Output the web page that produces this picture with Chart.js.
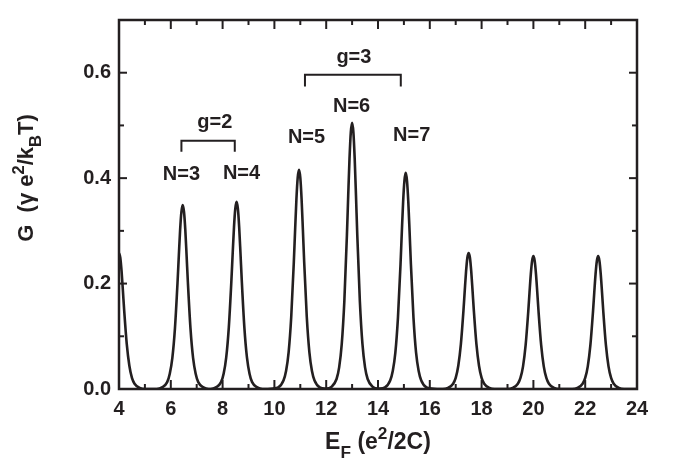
<!DOCTYPE html>
<html>
<head>
<meta charset="utf-8">
<script src="https://cdn.jsdelivr.net/npm/chart.js@4.4.1/dist/chart.umd.min.js"></script>
<style>
  html, body { margin: 0; padding: 0; background: #ffffff; }
  #wrap { position: relative; width: 674px; height: 461px; }
</style>
</head>
<body>
<div id="wrap"><canvas id="c" width="674" height="461"></canvas></div>
<script>
// ---- data ----
const xTicks = [4, 6, 8, 10, 12, 14, 16, 18, 20, 22, 24];
const xMinorTicks = [5, 7, 9, 11, 13, 15, 17, 19, 21, 23];
const yTicks = [0.0, 0.2, 0.4, 0.6];
const yMinorTicks = [0.1, 0.3, 0.5];

const xPeak0 = [4.00, 4.05, 4.10, 4.15, 4.20, 4.30, 4.40, 4.50, 4.60, 4.80, 5.00];
const gPeak0 = [0.258, 0.249, 0.223, 0.187, 0.149, 0.085, 0.044, 0.021, 0.010, 0.002, 0.000];

const xPeak1 = [5.46, 5.66, 5.86, 5.96, 6.06, 6.16, 6.26, 6.31, 6.36, 6.41, 6.46, 6.51, 6.56, 6.61, 6.66, 6.76, 6.86, 6.96, 7.06, 7.26, 7.46];
const gPeak1 = [0.000, 0.003, 0.013, 0.029, 0.059, 0.115, 0.202, 0.253, 0.302, 0.336, 0.349, 0.336, 0.302, 0.253, 0.202, 0.115, 0.059, 0.029, 0.013, 0.003, 0.000];

const xPeak2 = [7.54, 7.74, 7.94, 8.04, 8.14, 8.24, 8.34, 8.39, 8.44, 8.49, 8.54, 8.59, 8.64, 8.69, 8.74, 8.84, 8.94, 9.04, 9.14, 9.34, 9.54];
const gPeak2 = [0.000, 0.003, 0.013, 0.029, 0.060, 0.117, 0.206, 0.258, 0.307, 0.342, 0.355, 0.342, 0.307, 0.258, 0.206, 0.117, 0.060, 0.029, 0.013, 0.003, 0.000];

const xPeak3 = [9.95, 10.15, 10.35, 10.45, 10.55, 10.65, 10.75, 10.80, 10.85, 10.90, 10.95, 11.00, 11.05, 11.10, 11.15, 11.25, 11.35, 11.45, 11.55, 11.75, 11.95];
const gPeak3 = [0.001, 0.003, 0.016, 0.034, 0.070, 0.137, 0.241, 0.302, 0.360, 0.401, 0.416, 0.401, 0.360, 0.302, 0.241, 0.137, 0.070, 0.034, 0.016, 0.003, 0.001];

const xPeak4 = [12.00, 12.20, 12.40, 12.50, 12.60, 12.70, 12.80, 12.85, 12.90, 12.95, 13.00, 13.05, 13.10, 13.15, 13.20, 13.30, 13.40, 13.50, 13.60, 13.80, 14.00];
const gPeak4 = [0.001, 0.004, 0.019, 0.041, 0.085, 0.166, 0.292, 0.367, 0.437, 0.487, 0.505, 0.487, 0.437, 0.367, 0.292, 0.166, 0.085, 0.041, 0.019, 0.004, 0.001];

const xPeak5 = [14.07, 14.27, 14.47, 14.57, 14.67, 14.77, 14.87, 14.92, 14.97, 15.02, 15.07, 15.12, 15.17, 15.22, 15.27, 15.37, 15.47, 15.57, 15.67, 15.87, 16.07];
const gPeak5 = [0.001, 0.003, 0.016, 0.034, 0.069, 0.135, 0.237, 0.298, 0.355, 0.395, 0.410, 0.395, 0.355, 0.298, 0.237, 0.135, 0.069, 0.034, 0.016, 0.003, 0.001];

const xPeak6 = [16.50, 16.70, 16.90, 17.00, 17.10, 17.20, 17.30, 17.35, 17.40, 17.45, 17.50, 17.55, 17.60, 17.65, 17.70, 17.80, 17.90, 18.00, 18.10, 18.30, 18.50];
const gPeak6 = [0.000, 0.002, 0.010, 0.021, 0.044, 0.085, 0.149, 0.187, 0.223, 0.249, 0.258, 0.249, 0.223, 0.187, 0.149, 0.085, 0.044, 0.021, 0.010, 0.002, 0.000];

const xPeak7 = [19.00, 19.20, 19.40, 19.50, 19.60, 19.70, 19.80, 19.85, 19.90, 19.95, 20.00, 20.05, 20.10, 20.15, 20.20, 20.30, 20.40, 20.50, 20.60, 20.80, 21.00];
const gPeak7 = [0.000, 0.002, 0.010, 0.021, 0.043, 0.083, 0.146, 0.183, 0.218, 0.243, 0.252, 0.243, 0.218, 0.183, 0.146, 0.083, 0.043, 0.021, 0.010, 0.002, 0.000];

const xPeak8 = [21.50, 21.70, 21.90, 22.00, 22.10, 22.20, 22.30, 22.35, 22.40, 22.45, 22.50, 22.55, 22.60, 22.65, 22.70, 22.80, 22.90, 23.00, 23.10, 23.30, 23.50, 24.00];
const gPeak8 = [0.000, 0.002, 0.010, 0.021, 0.043, 0.083, 0.146, 0.183, 0.218, 0.243, 0.252, 0.243, 0.218, 0.183, 0.146, 0.083, 0.043, 0.021, 0.010, 0.002, 0.000, 0.000];

// annotation labels (text, x, y in data units)
const peakLabels = ['N=3', 'N=4', 'N=5', 'N=6', 'N=7'];
const peakLabelX = [6.41, 8.73, 11.24, 12.98, 15.30];
const peakLabelY = [0.407, 0.409, 0.477, 0.536, 0.480];
const groupLabels = ['g=2', 'g=3'];
const groupLabelX = [7.70, 13.07];
const groupLabelY = [0.505, 0.628];
const bracketX1 = [6.41, 11.18];
const bracketX2 = [8.47, 14.88];
const bracketTop = [0.471, 0.596];
const bracketBottom = [0.450, 0.574];

// ---- build trace ----
const allX = [].concat(xPeak0, xPeak1, xPeak2, xPeak3, xPeak4, xPeak5, xPeak6, xPeak7, xPeak8);
const allG = [].concat(gPeak0, gPeak1, gPeak2, gPeak3, gPeak4, gPeak5, gPeak6, gPeak7, gPeak8);
const points = allX.map((x, i) => ({ x: x, y: allG[i] }));

const INK = '#231f20';
const FONT = '"Liberation Sans", Arial, sans-serif';

function drawRich(ctx, parts, x, y, size, subRatio, supDy, subDy) {
  let total = 0;
  const widths = parts.map(p => {
    const s = (p.sub || p.sup) ? size * subRatio : size;
    ctx.font = 'bold ' + s + 'px ' + FONT;
    const w = ctx.measureText(p.t).width;
    total += w;
    return w;
  });
  let cx = x - total / 2;
  ctx.textAlign = 'left';
  ctx.textBaseline = 'alphabetic';
  parts.forEach((p, i) => {
    const s = (p.sub || p.sup) ? size * subRatio : size;
    ctx.font = 'bold ' + s + 'px ' + FONT;
    let dy = 0;
    if (p.sup) dy = -size * supDy;
    if (p.sub) dy = size * subDy;
    ctx.fillText(p.t, cx, y + dy);
    cx += widths[i];
  });
}

const decorations = {
  id: 'decorations',
  afterDraw(chart) {
    const { ctx, chartArea: a, scales } = chart;
    const xs = scales.x, ys = scales.y;
    ctx.save();
    ctx.strokeStyle = INK;
    ctx.fillStyle = INK;
    ctx.lineCap = 'butt';
    // frame
    ctx.lineWidth = 2.5;
    ctx.strokeRect(a.left, a.top, a.right - a.left, a.bottom - a.top);
    // ticks (inward, mirrored)
    ctx.lineWidth = 2;
    const seg = (x1, y1, x2, y2) => { ctx.beginPath(); ctx.moveTo(x1, y1); ctx.lineTo(x2, y2); ctx.stroke(); };
    xTicks.forEach(v => { const p = xs.getPixelForValue(v); seg(p, a.bottom, p, a.bottom - 9); seg(p, a.top, p, a.top + 9); });
    xMinorTicks.forEach(v => { const p = xs.getPixelForValue(v); seg(p, a.bottom, p, a.bottom - 5); seg(p, a.top, p, a.top + 5); });
    yTicks.forEach(v => { const p = ys.getPixelForValue(v); seg(a.left, p, a.left + 8, p); seg(a.right, p, a.right - 8, p); });
    yMinorTicks.forEach(v => { const p = ys.getPixelForValue(v); seg(a.left, p, a.left + 5, p); seg(a.right, p, a.right - 5, p); });

    // brackets
    ctx.lineWidth = 2;
    for (let i = 0; i < bracketX1.length; i++) {
      const x1 = xs.getPixelForValue(bracketX1[i]);
      const x2 = xs.getPixelForValue(bracketX2[i]);
      const yt = ys.getPixelForValue(bracketTop[i]);
      const yb = ys.getPixelForValue(bracketBottom[i]);
      ctx.beginPath();
      ctx.moveTo(x1, yb); ctx.lineTo(x1, yt); ctx.lineTo(x2, yt); ctx.lineTo(x2, yb);
      ctx.stroke();
    }
    // labels
    ctx.font = 'bold 20px ' + FONT;
    ctx.textAlign = 'center';
    ctx.textBaseline = 'middle';
    peakLabels.forEach((t, i) => ctx.fillText(t, xs.getPixelForValue(peakLabelX[i]), ys.getPixelForValue(peakLabelY[i])));
    groupLabels.forEach((t, i) => ctx.fillText(t, xs.getPixelForValue(groupLabelX[i]), ys.getPixelForValue(groupLabelY[i])));

    // x axis title
    drawRich(ctx, [{ t: 'E' }, { t: 'F', sub: true }, { t: ' (e' }, { t: '2', sup: true }, { t: '/2C)' }],
      (a.left + a.right) / 2, 449, 23, 0.75, 0.42, 0.4);
    // y axis title (rotated)
    ctx.save();
    ctx.translate(33, 178);
    ctx.rotate(-Math.PI / 2);
    drawRich(ctx, [{ t: 'G  (\u03b3 e' }, { t: '2', sup: true }, { t: '/k' }, { t: 'B', sub: true }, { t: 'T)' }],
      0, 0, 22, 0.75, 0.42, 0.35);
    ctx.restore();
    ctx.restore();
  }
};

new Chart(document.getElementById('c'), {
  type: 'line',
  data: {
    datasets: [{
      data: points,
      borderColor: INK,
      borderWidth: 2.6,
      pointRadius: 0,
      fill: false,
      cubicInterpolationMode: 'monotone'
    }]
  },
  options: {
    responsive: false,
    animation: false,
    events: [],
    layout: { padding: { left: 0, top: 6, right: 37, bottom: 0 } },
    plugins: { legend: { display: false }, tooltip: { enabled: false } },
    scales: {
      x: {
        type: 'linear', min: 4, max: 24,
        afterBuildTicks: s => { s.ticks = xTicks.map(v => ({ value: v })); },
        afterFit: s => { s.height = 72; },
        grid: { display: false, drawTicks: false },
        border: { display: false },
        ticks: { color: INK, padding: 8, maxRotation: 0, font: { family: FONT, size: 20, weight: 'bold' }, callback: v => String(v) }
      },
      y: {
        type: 'linear', min: 0, max: 0.7,
        afterBuildTicks: s => { s.ticks = yTicks.map(v => ({ value: v })); },
        afterFit: s => { s.width = 119; },
        grid: { display: false, drawTicks: false },
        border: { display: false },
        ticks: { color: INK, padding: 8, font: { family: FONT, size: 20, weight: 'bold' }, callback: v => Number(v).toFixed(1) }
      }
    }
  },
  plugins: [decorations]
});
</script>
</body>
</html>
